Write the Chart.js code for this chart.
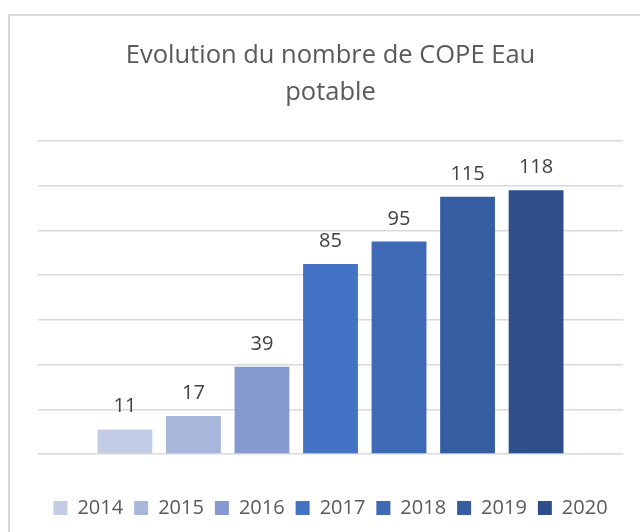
<!DOCTYPE html>
<html>
<head>
<meta charset="utf-8">
<script src="https://cdn.jsdelivr.net/npm/chart.js@4/dist/chart.umd.min.js"></script>
<style>
  html, body { margin: 0; padding: 0; background: #fff; }
  #wrap { position: relative; width: 640px; height: 532px; }
  #frame { position: absolute; left: 8px; top: 14px; right: -4px; bottom: -4px;
           border-left: 2px solid #d9d9d9; border-top: 2px solid #d9d9d9; }
  canvas { position: absolute; left: 0; top: 0; }
</style>
</head>
<body>
<div id="wrap">
  <div id="frame"></div>
  <canvas id="chart" width="640" height="532"></canvas>
</div>
<script>
// Données
const years = ['2014', '2015', '2016', '2017', '2018', '2019', '2020'];
const values = [11, 17, 39, 85, 95, 115, 118];
const colors = ['#c3cde6', '#a7b6da', '#8399cf', '#4472c4', '#3d69b5', '#365da2', '#2f4f8c'];
const titleLines = ['Evolution du nombre de COPE Eau', 'potable'];

const FONT = "'Open Sans', sans-serif";

// Étiquettes de valeur au-dessus des barres
const barLabels = {
    id: 'barLabels',
    afterDatasetsDraw(chart) {
        const ctx = chart.ctx;
        ctx.save();
        ctx.font = '20px ' + FONT;
        ctx.fillStyle = '#404040';
        ctx.textAlign = 'center';
        ctx.textBaseline = 'alphabetic';
        chart.data.datasets.forEach((ds, i) => {
            const meta = chart.getDatasetMeta(i);
            meta.data.forEach((bar, j) => {
                ctx.fillText(String(ds.data[j]), bar.x, bar.y - 17);
            });
        });
        ctx.restore();
    }
};

const datasets = years.map((y, i) => ({
    label: y,
    data: [values[i]],
    backgroundColor: colors[i],
    borderWidth: 0
}));

new Chart(document.getElementById('chart'), {
    type: 'bar',
    data: { labels: [''], datasets },
    options: {
        responsive: false,
        animation: false,
        layout: { padding: { left: 38, right: 17, top: 0, bottom: 4 } },
        datasets: {
            bar: { categoryPercentage: 0.82, barPercentage: 0.80 }
        },
        plugins: {
            title: {
                display: true,
                text: titleLines,
                color: '#595959',
                font: { family: FONT, size: 25.5, weight: 'normal', lineHeight: 1.45 },
                padding: { top: 37, bottom: 30 }
            },
            legend: {
                position: 'bottom',
                labels: {
                    boxWidth: 14,
                    boxHeight: 14,
                    padding: 11,
                    color: '#595959',
                    font: { family: FONT, size: 20 }
                }
            },
            tooltip: { enabled: false }
        },
        scales: {
            x: {
                display: true,
                grid: { display: false, drawTicks: false },
                border: { display: false },
                ticks: { display: false },
                // espace vide entre l'axe et la légende
                afterFit: (scale) => { scale.height = 33; }
            },
            y: {
                min: 0,
                max: 140,
                ticks: { display: false, stepSize: 20 },
                border: { display: false },
                grid: { color: '#d9d9d9', lineWidth: 1.5, drawTicks: false }
            }
        }
    },
    plugins: [barLabels]
});
</script>
</body>
</html>
